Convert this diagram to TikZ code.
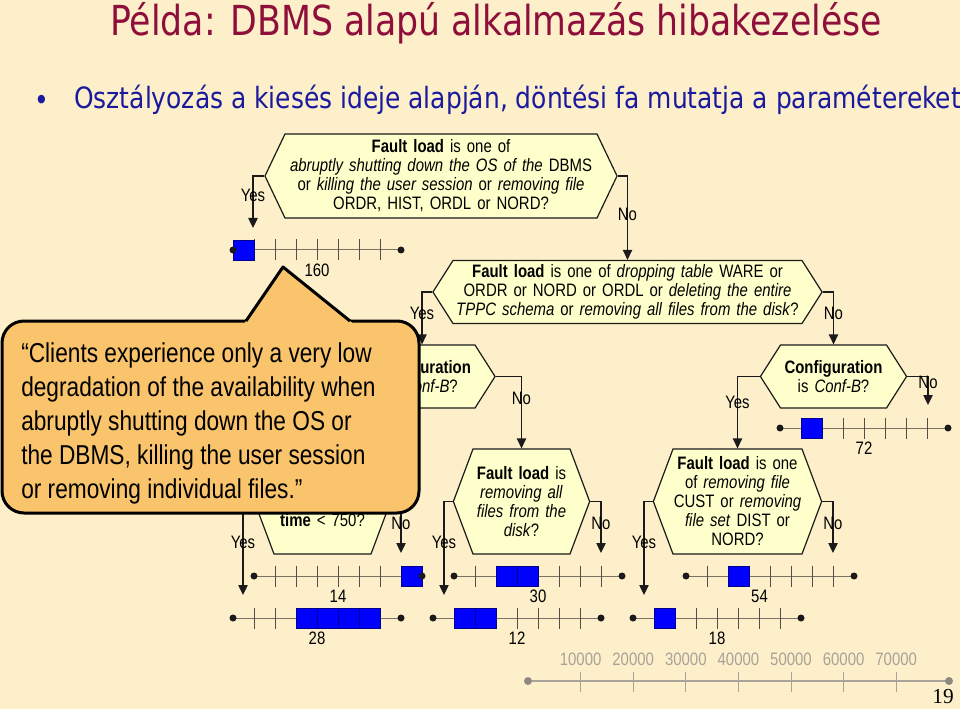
\documentclass[tikz,border=0pt]{standalone}
\usepackage{fontspec}
\setmainfont{Liberation Sans}[FakeStretch=0.83]
\newfontfamily\headfont{DejaVu Sans}[FakeStretch=0.84]
\newfontfamily\leadfont{DejaVu Sans}[FakeStretch=0.85]
\newfontfamily\pagefont{Liberation Serif}
\usetikzlibrary{shapes.symbols,arrows.meta,positioning}
\definecolor{slide}{HTML}{FDEFC9}
\definecolor{paper}{HTML}{FFFFCC}
\definecolor{note}{HTML}{F9C46B}
\definecolor{wine}{HTML}{8E0F3C}
\definecolor{navy}{HTML}{1A1A9E}
\definecolor{ink}{HTML}{1A1A1A}
\definecolor{rule}{HTML}{7A7264}
\definecolor{faded}{HTML}{A8A298}
\definecolor{slotblue}{HTML}{0000FF}
\definecolor{slotedge}{HTML}{00008C}
\newcommand\diag{\fontsize{13.5pt}{14.25pt}\selectfont}
\tikzset{
  question/.style={signal, signal to=east and west, draw=ink, line width=.9pt,
    fill=paper, align=center, inner ysep=0pt, inner xsep=-11.25pt, font=\diag},
  flow/.style={draw=ink, line width=1pt, -{Triangle[length=7.5pt,width=7pt]}},
  answer/.style={font=\diag, inner sep=0pt},
  track/.style={draw=rule, line width=.75pt},
  tick/.style={draw=rule!70!black, line width=.7pt},
  slot/.style={draw=slotedge, line width=.4pt, fill=slotblue, inner sep=0pt,
    minimum width=15.75pt, minimum height=15pt},
  tally/.style={font=\diag, inner sep=0pt},
  scalelbl/.style={font=\diag, text=faded, inner sep=0pt},
  headline/.style={font=\headfont\fontsize{31pt}{34pt}\selectfont, text=wine, inner sep=0pt},
  point/.style={font=\leadfont\fontsize{22pt}{26pt}\selectfont, text=navy, inner sep=0pt},
  bubble/.style={draw=black, line width=2.25pt, fill=note, line join=round},
  quote/.style={font=\fontsize{20.5pt}{25.5pt}\selectfont, align=left, inner sep=0pt},
}

\begin{document}
\begin{tikzpicture}[x=0.75pt,y=-0.75pt]

\fill[slide] (0,0) rectangle (960,709);
\useasboundingbox (0,0) rectangle (960,709);

% ----- heading -----
\node[headline] (title) at (496,23) {Példa: DBMS alapú alkalmazás hibakezelése};
\node[point] (dot) at (42,103) {•};
\node[point, anchor=west] (lead) at (74,100) {Osztályozás a kiesés ideje alapján, döntési fa mutatja a paramétereket};

% ----- decisions -----
\node[question, text width=256.5pt, minimum height=63pt, signal pointer angle=129] (q1) at (441,176)
  {\textbf{Fault load} is one of\\ \textit{abruptly shutting down the OS of the} DBMS\\
   or \textit{killing the user session} or \textit{removing file}\\ ORDR, HIST, ORDL or NORD?};
\node[question, text width=284.25pt, minimum height=47.25pt, signal pointer angle=115] (q2) at (627.5,292)
  {\textbf{Fault load} is one of \textit{dropping table} WARE or\\ ORDR or NORD or ORDL or \textit{deleting the entire}\\
   \textit{TPPC schema} or \textit{removing all files from the disk}?};
\node[question, text width=102pt, minimum height=47.25pt, signal pointer angle=115] (q3) at (422,376.5)
  {\textbf{Configuration}\\ is \textit{Conf-B}?};
\node[question, text width=102pt, minimum height=47.25pt, signal pointer angle=115] (q4) at (833.5,376.5)
  {\textbf{Configuration}\\ is \textit{Conf-B}?};
\node[question, text width=95.25pt, minimum height=78.75pt, signal pointer angle=139] (q5) at (521.5,501.5)
  {\textbf{Fault load} is\\ \textit{removing all}\\ \textit{files from the}\\ \textit{disk}?};
\node[question, text width=119.25pt, minimum height=78.75pt, signal pointer angle=139] (q6) at (737.5,501.5)
  {\textbf{Fault load} is one\\ of \textit{removing file}\\ CUST or \textit{removing}\\ \textit{file set} DIST or\\ NORD?};
\node[question, text width=95.25pt, minimum height=78.75pt, signal pointer angle=139] (q7) at (322.5,501.5)
  {\mbox{}\\[23.5pt]\textbf{time} < 750?};

% ----- arrow ends -----
\coordinate (a1) at (253,228);
\coordinate (a2) at (928,405);
\coordinate (a3) at (444,595);
\coordinate (a4) at (601,553);
\coordinate (a5) at (644,595);
\coordinate (a6) at (833,553);
\coordinate (a7) at (243,595);
\coordinate (a8) at (401,553);

% ----- branches -----
\draw[flow] (q1.west) -| node[answer,pos=.69]{Yes} (a1);
\draw[flow] (q1.east) -| node[answer,pos=.73]{No} (q2.north);
\draw[flow] (q2.west) -| node[answer,pos=.70]{Yes} (q3.north);
\draw[flow] (q2.east) -| node[answer,pos=.70]{No} (q4.north);
\draw[flow] (q3.west) -| (q7.north);
\draw[flow] (q3.east) -| node[answer,pos=.65]{No} (q5.north);
\draw[flow] (q4.west) -| node[answer,pos=.68]{Yes} (q6.north);
\draw[flow] (q4.east) -| node[answer,pos=.60]{No} (a2);
\draw[flow] (q5.west) -| node[answer,pos=.72]{Yes} (a3);
\draw[flow] (q5.east) -| node[answer,pos=.71]{No} (a4);
\draw[flow] (q6.west) -| node[answer,pos=.72]{Yes} (a5);
\draw[flow] (q6.east) -| node[answer,pos=.71]{No} (a6);
\draw[flow] (q7.west) -| node[answer,pos=.72]{Yes} (a7);
\draw[flow] (q7.east) -| node[answer,pos=.71]{No} (a8);

% ----- outage bars -----
\foreach \nm/\x/\y/\a/\b/\at/\val in {
    bar160/233/250/0/0/4/160, bar72/780/428/1/1/4/72,
    bar14/254/576/7/7/4/14, bar30/454/576/2/3/4/30, bar54/686/576/2/2/3.5/54,
    bar28/233/618/3/6/4/28, bar12/433/618/1/2/4/12, bar18/633/618/1/1/4/18}{
  \draw[track] (\x,\y) -- ++(168,0);
  \foreach \k in {1,...,7}
    \draw[tick] (\x+21*\k,\y-10.5) -- ++(0,21);
  \foreach \s in {\a,...,\b}
    \node[slot] (\nm-\s) at (\x+21*\s+10.5,\y) {};
  \fill[ink] (\x,\y) circle[radius=3.5] (\x+168,\y) circle[radius=3.5];
  \node[tally] (\nm) at (\x+21*\at,\y+20) {\val};
}

% ----- scale -----
\draw[draw=faded, line width=.8pt] (528,681) -- (949,681);
\foreach \k in {1,...,7}{
  \draw[draw=faded, line width=.7pt] (528+52.6*\k,672) -- ++(0,20);
  \node[scalelbl] (s\k) at (528+52.6*\k,659) {\k0000};
}
\fill[faded!85!black] (528,681) circle[radius=4] (949,681) circle[radius=4];

\node[font=\pagefont\fontsize{16pt}{18pt}\selectfont, inner sep=0pt] (page) at (943,697) {19};

% ----- remark -----
\draw[bubble, rounded corners=16.5pt] (2,321) rectangle (419,513);
\fill[note] (244,324) -- (283,267) -- (353.7,324) -- cycle;
\draw[bubble, fill=none] (246,321) -- (283,267) -- (350,321);
\node[quote, anchor=west] (remark) at (21,423)
  {“Clients experience only a very low\\ degradation of the availability when\\ abruptly shutting down the OS or\\
   the DBMS, killing the user session\\ or removing individual files.”};

\end{tikzpicture}
\end{document}
